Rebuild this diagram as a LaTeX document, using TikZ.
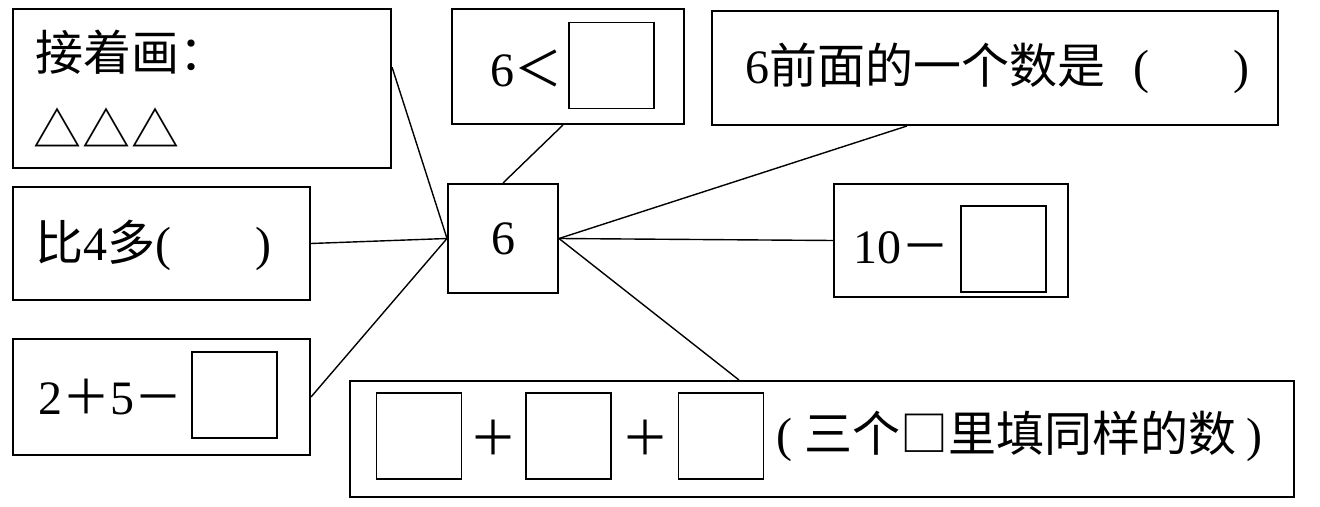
\documentclass[tikz,border=0pt]{standalone}
\usepackage{fontspec}
\setmainfont{Liberation Serif}
\newfontfamily\cjk{Noto Sans CJK SC}
\usetikzlibrary{positioning}

\tikzset{
  card/.style={draw, line width=1pt, inner sep=0pt},
  blank/.style={draw, line width=0.9pt, inner sep=0pt, minimum width=42.5pt, minimum height=43pt},
  word/.style={anchor=west, inner sep=0pt, font=\fontsize{24}{28}\selectfont},
  link/.style={line width=0.7pt}
}

\begin{document}
\begin{tikzpicture}[x=0.5pt, y=-0.5pt]

\useasboundingbox (0,0) rectangle (1320,507);

% outer boxes
\node [card, minimum width=189pt, minimum height=79.5pt] (draw) at (202,88.5) {};
\node [card, minimum width=116pt, minimum height=57.5pt] (less) at (568,66.5) {};
\node [card, minimum width=283pt, minimum height=57pt] (before) at (995,68) {};
\node [card, minimum width=148.5pt, minimum height=56.5pt] (more) at (161.5,243.5) {};
\node [card, minimum width=55pt, minimum height=54.5pt, font=\fontsize{24}{28}\selectfont] (six) at (503,238.5) {6};
\node [card, minimum width=117pt, minimum height=56.5pt] (minus) at (951,240.5) {};
\node [card, minimum width=148.5pt, minimum height=58pt] (sum) at (161.5,397) {};
\node [card, minimum width=472pt, minimum height=58pt] (triple) at (822,439) {};

% texts
\node [word] (draw-1) at (35,52) {\cjk 接着画：};
\node [word] (draw-2) at (33,128) {\cjk △\hspace{0.5pt}△\hspace{0.5pt}△};
\node [word] (less-t) at (490,68) {6\cjk ＜};
\node [word] (before-t) at (745,68) {6\cjk 前面的一个数是\rm\hspace{14pt}(\hspace{42pt})};
\node [word] (more-t) at (35,245) {\cjk 比\rm 4\cjk 多\rm(\hspace{42pt})};
\node [word] (minus-t) at (853,248) {10\cjk －};
\node [word] (sum-t) at (38,397) {2\cjk ＋\rm 5\cjk －};
\node [word] (triple-t) at (776,436) {(\hspace{6pt}\cjk 三个□里填同样的数\rm\hspace{5pt})};

% blanks
\node [blank] (less-b) at (611.5,65.5) {};
\node [blank] (minus-b) at (1003.5,249) {};
\node [blank] (sum-b) at (234.5,395) {};
\foreach \x [count=\i] in {419,568.5,721}
  \node [blank] (triple-\i) at (\x,436) {};
\foreach \x [count=\i] in {493.5,645}
  \node [word, anchor=center] (plus-\i) at (\x,438) {\cjk ＋};

% links
\draw [link] ([yshift=10.75pt]draw.east) -- (six.west);
\foreach \n in {more, sum}
  \draw [link] (\n.east) -- (six.west);
\draw [link] ([xshift=-2.5pt]less.south) -- (six.north);
\draw [link] ([xshift=-44pt]before.south) -- (six.east);
\draw [link] (six.east) -- (minus.west);
\draw [link] (six.east) -- ([xshift=-41.5pt]triple.north);

\end{tikzpicture}
\end{document}
